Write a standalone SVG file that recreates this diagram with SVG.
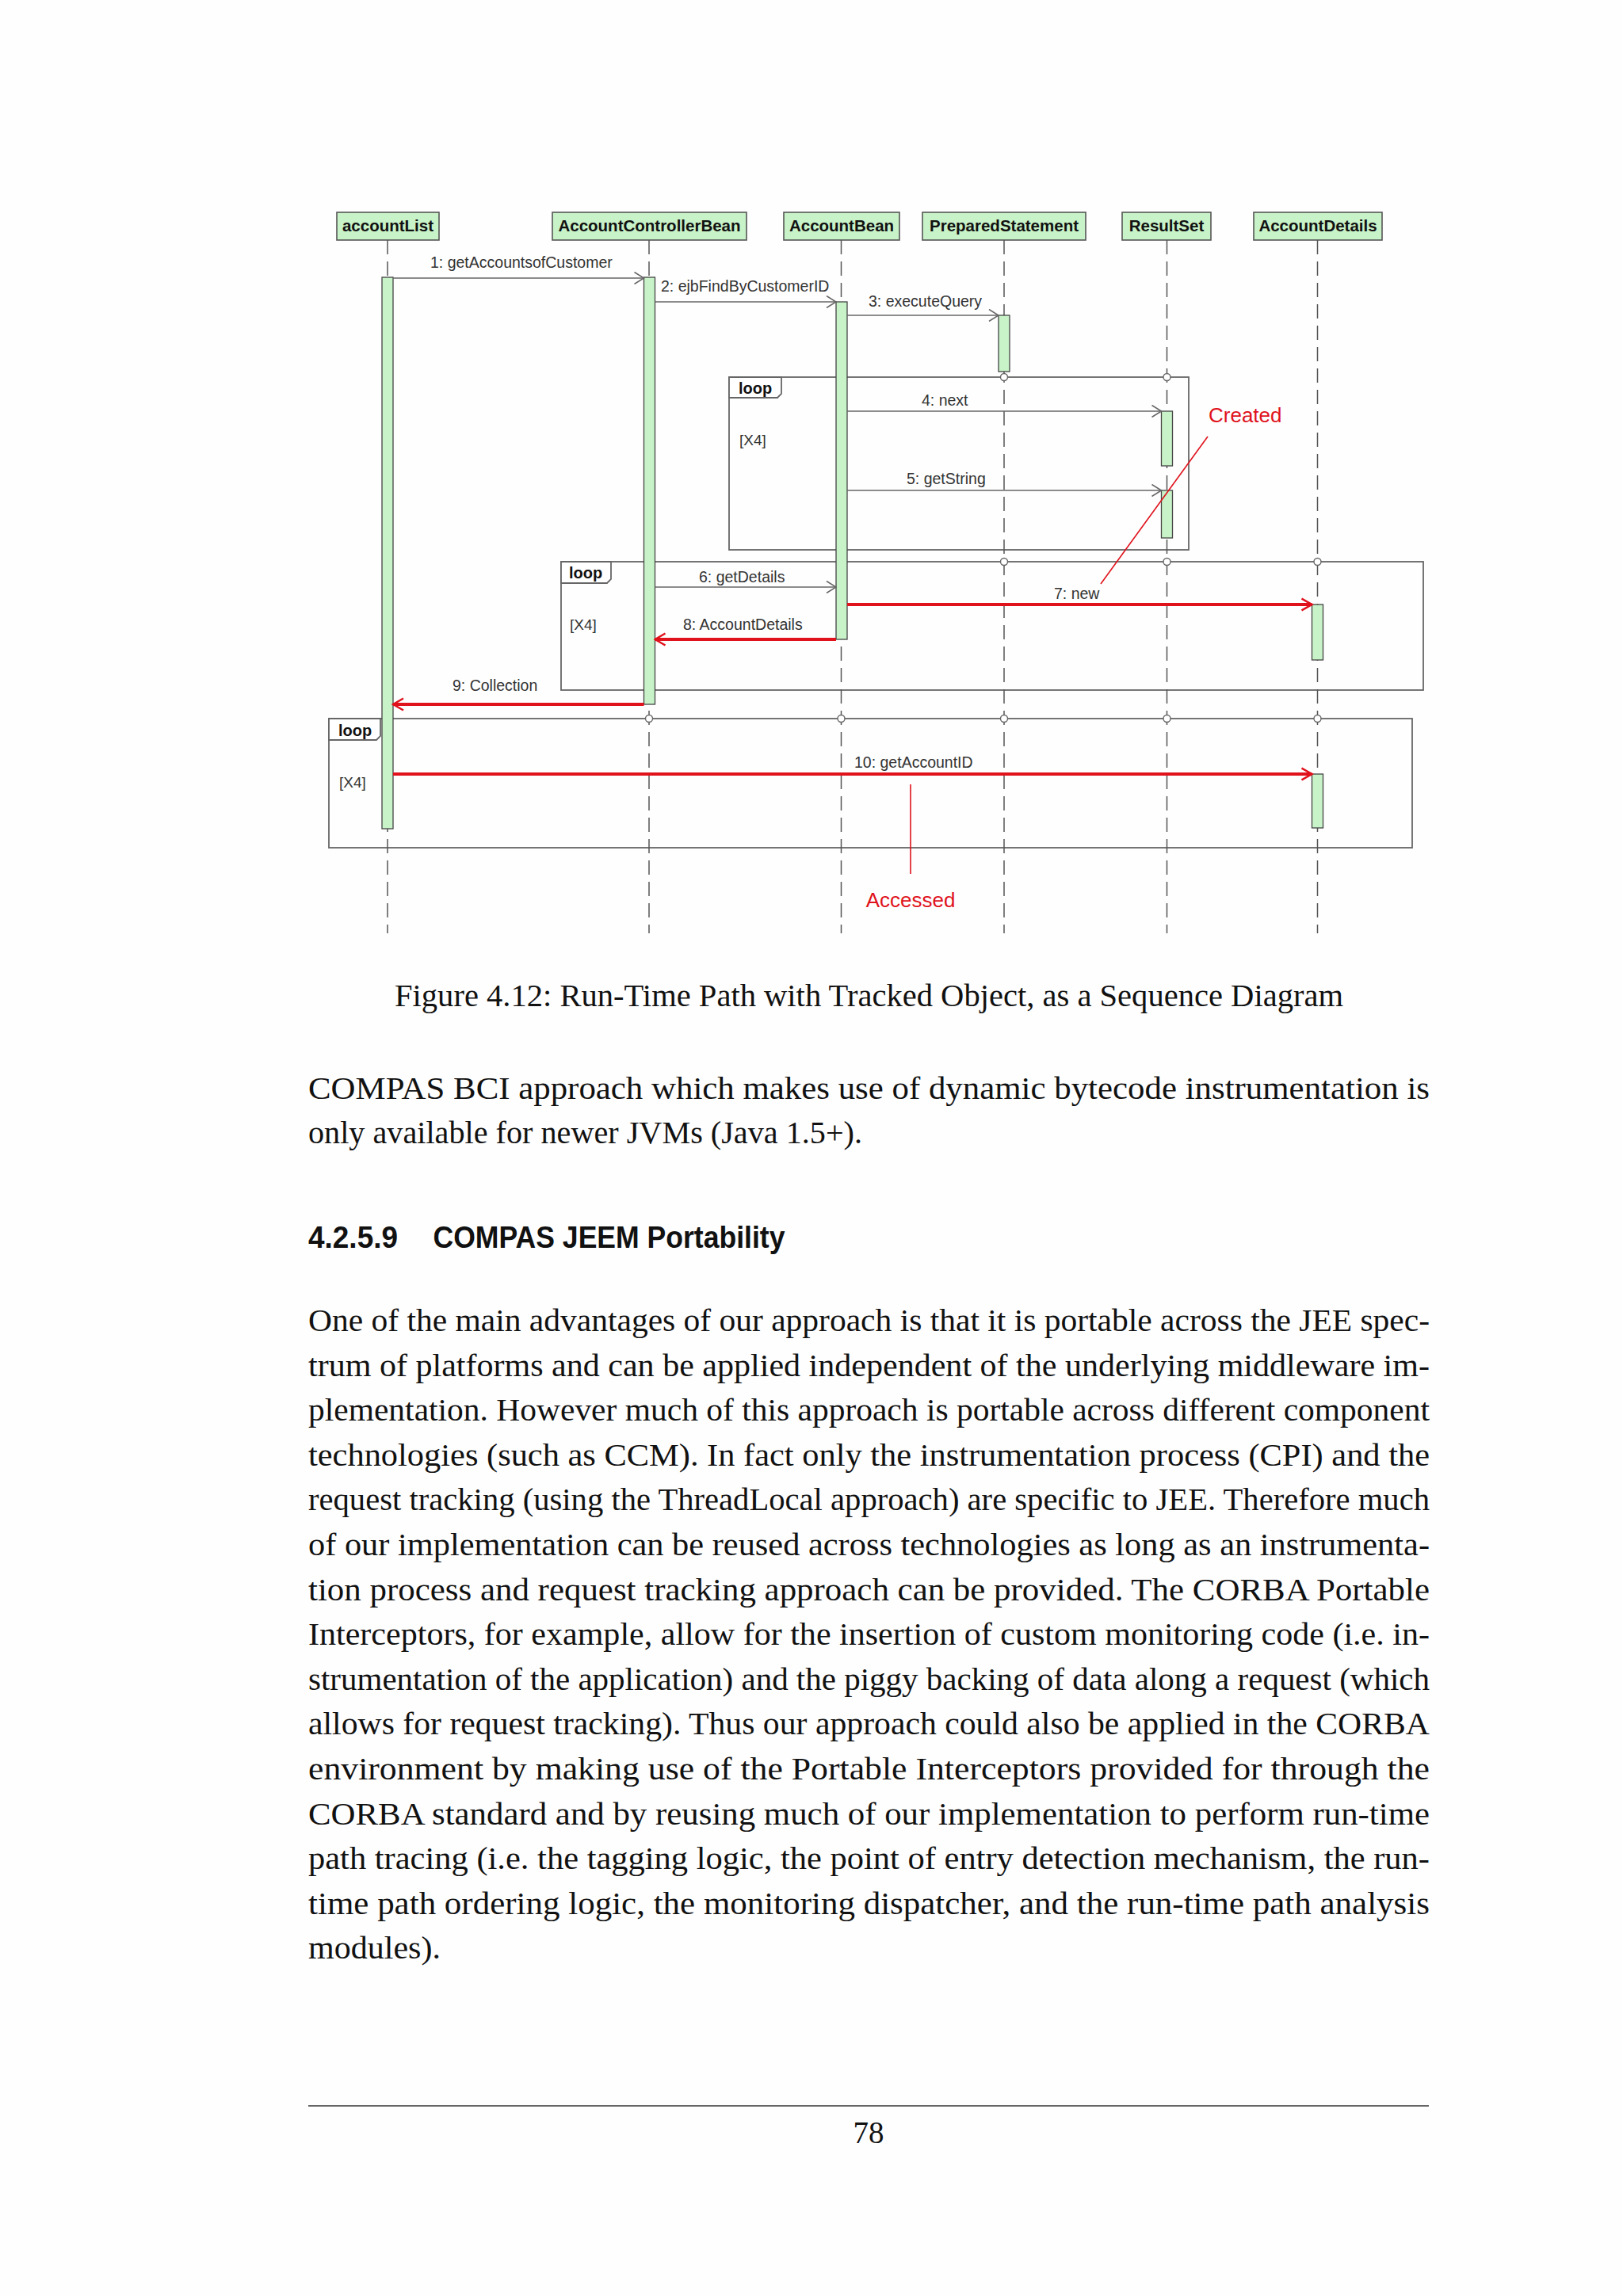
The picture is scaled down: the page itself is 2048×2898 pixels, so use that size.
<svg xmlns="http://www.w3.org/2000/svg" width="2048" height="2898" viewBox="0 0 2048 2898">
<style>
.bg{fill:#fefefe}
.hdr{fill:#c8f2c8;stroke:#555;stroke-width:1.6}
.hdrt{font-family:"Liberation Sans",Arial,sans-serif;font-weight:bold;font-size:20.5px;fill:#111;text-anchor:middle}
.life{stroke:#555;stroke-width:1.5;stroke-dasharray:18 9;fill:none}
.bar{fill:#c8f2c8;stroke:#444;stroke-width:1.3}
.frame{fill:none;stroke:#666;stroke-width:1.8}
.tab{fill:#fff;stroke:#666;stroke-width:1.8}
.loopt{font-family:"Liberation Sans",Arial,sans-serif;font-weight:bold;font-size:20px;fill:#111}
.guard{font-family:"Liberation Sans",Arial,sans-serif;font-size:19px;fill:#333}
.msg{stroke:#666;stroke-width:1.6;fill:none}
.rmsg{stroke:#e0121c;stroke-width:4;fill:none}
.lbl{font-family:"Liberation Sans",Arial,sans-serif;font-size:19.5px;fill:#333}
.circ{fill:#fff;stroke:#666;stroke-width:1.4}
.note{font-family:"Liberation Sans",Arial,sans-serif;font-size:26px;fill:#e0121c}
.nline{stroke:#e0121c;stroke-width:1.6;fill:none}
.body{font-family:"Liberation Serif","Times New Roman",serif;font-size:39px;fill:#111}
.head{font-family:"Liberation Sans",Arial,sans-serif;font-weight:bold;font-size:39px;fill:#111}
</style>
<defs>
<marker id="arrG" viewBox="0 0 14 16" refX="13" refY="8" markerWidth="14" markerHeight="16" orient="auto" markerUnits="userSpaceOnUse">
<path d="M1,0.5 L13,8 L1,15.5" fill="none" stroke="#666" stroke-width="1.6"/>
</marker>
<marker id="arrR" viewBox="0 0 16 18" refX="14" refY="9" markerWidth="16" markerHeight="18" orient="auto" markerUnits="userSpaceOnUse">
<path d="M1,1.5 L14,9 L1,16.5" fill="none" stroke="#e0121c" stroke-width="2.5"/>
</marker>
</defs>
<rect class="bg" x="0" y="0" width="2048" height="2898"/>

<g id="frames">
<g id="loop1">
<rect class="frame" x="920" y="476" width="580" height="218"/>
<path class="tab" d="M920,476 H986 V497 L981,502 H920 Z"/>
<text class="loopt" x="932" y="497">loop</text>
<text class="guard" x="933" y="562">[X4]</text>
</g>
<g id="loop2">
<rect class="frame" x="708" y="709" width="1088" height="162"/>
<path class="tab" d="M708,709 H771 V731 L766,736 H708 Z"/>
<text class="loopt" x="718" y="730">loop</text>
<text class="guard" x="719" y="795">[X4]</text>
</g>
<g id="loop3">
<rect class="frame" x="415" y="907" width="1367" height="163"/>
<path class="tab" d="M415,907 H480 V929 L475,934 H415 Z"/>
<text class="loopt" x="427" y="929">loop</text>
<text class="guard" x="428" y="994">[X4]</text>
</g>
</g>

<g id="accountList">
<line class="life" x1="489" y1="303" x2="489" y2="1178"/>
<rect class="hdr" x="425" y="268" width="129" height="35"/>
<text class="hdrt" x="489.5" y="291.5">accountList</text>
<rect class="bar" x="482" y="350" width="14" height="696"/>
</g>
<g id="AccountControllerBean">
<line class="life" x1="819" y1="303" x2="819" y2="1178"/>
<rect class="hdr" x="697" y="268" width="245" height="35"/>
<text class="hdrt" x="819.5" y="291.5">AccountControllerBean</text>
<rect class="bar" x="812.5" y="350" width="14" height="539"/>
</g>
<g id="AccountBean">
<line class="life" x1="1061.5" y1="303" x2="1061.5" y2="1178"/>
<rect class="hdr" x="989" y="268" width="146" height="35"/>
<text class="hdrt" x="1062" y="291.5">AccountBean</text>
<rect class="bar" x="1055" y="381" width="14" height="426"/>
</g>
<g id="PreparedStatement">
<line class="life" x1="1267" y1="303" x2="1267" y2="1178"/>
<rect class="hdr" x="1164" y="268" width="206" height="35"/>
<text class="hdrt" x="1267" y="291.5">PreparedStatement</text>
<rect class="bar" x="1260" y="398" width="14" height="71"/>
</g>
<g id="ResultSet">
<line class="life" x1="1472.5" y1="303" x2="1472.5" y2="1178"/>
<rect class="hdr" x="1416" y="268" width="112" height="35"/>
<text class="hdrt" x="1472" y="291.5">ResultSet</text>
<rect class="bar" x="1465.5" y="519" width="14" height="69"/>
<rect class="bar" x="1465.5" y="619" width="14" height="60"/>
</g>
<g id="AccountDetails">
<line class="life" x1="1662.5" y1="303" x2="1662.5" y2="1178"/>
<rect class="hdr" x="1582" y="268" width="162" height="35"/>
<text class="hdrt" x="1663" y="291.5">AccountDetails</text>
<rect class="bar" x="1655.5" y="763" width="14" height="70"/>
<rect class="bar" x="1655.5" y="977" width="14" height="68"/>
</g>

<g id="frame-points">
<circle class="circ" cx="1267" cy="476" r="4.5"/>
<circle class="circ" cx="1472.5" cy="476" r="4.5"/>
<circle class="circ" cx="1267" cy="709" r="4.5"/>
<circle class="circ" cx="1472.5" cy="709" r="4.5"/>
<circle class="circ" cx="1662.5" cy="709" r="4.5"/>
<circle class="circ" cx="819" cy="907" r="4.5"/>
<circle class="circ" cx="1061.5" cy="907" r="4.5"/>
<circle class="circ" cx="1267" cy="907" r="4.5"/>
<circle class="circ" cx="1472.5" cy="907" r="4.5"/>
<circle class="circ" cx="1662.5" cy="907" r="4.5"/>
</g>

<g id="connectors">
<line class="msg" x1="496" y1="351" x2="812.5" y2="351" marker-end="url(#arrG)"/>
<text class="lbl" x="543" y="338">1: getAccountsofCustomer</text>
<line class="msg" x1="826.5" y1="381" x2="1055" y2="381" marker-end="url(#arrG)"/>
<text class="lbl" x="834" y="368">2: ejbFindByCustomerID</text>
<line class="msg" x1="1069" y1="398" x2="1260" y2="398" marker-end="url(#arrG)"/>
<text class="lbl" x="1096" y="387">3: executeQuery</text>
<line class="msg" x1="1069" y1="519" x2="1465.5" y2="519" marker-end="url(#arrG)"/>
<text class="lbl" x="1163" y="512">4: next</text>
<line class="msg" x1="1069" y1="619" x2="1465.5" y2="619" marker-end="url(#arrG)"/>
<text class="lbl" x="1144" y="611">5: getString</text>
<line class="msg" x1="826.5" y1="741" x2="1055" y2="741" marker-end="url(#arrG)"/>
<text class="lbl" x="882" y="735">6: getDetails</text>
<line class="rmsg" x1="1069" y1="763" x2="1655.5" y2="763" marker-end="url(#arrR)"/>
<text class="lbl" x="1330" y="756">7: new</text>
<line class="rmsg" x1="1055" y1="807" x2="826.5" y2="807" marker-end="url(#arrR)"/>
<text class="lbl" x="862" y="795">8: AccountDetails</text>
<line class="rmsg" x1="812.5" y1="889" x2="496" y2="889" marker-end="url(#arrR)"/>
<text class="lbl" x="571" y="872">9: Collection</text>
<line class="rmsg" x1="496" y1="977" x2="1655.5" y2="977" marker-end="url(#arrR)"/>
<text class="lbl" x="1078" y="969">10: getAccountID</text>
</g>

<g id="annotations">
<line class="nline" x1="1524" y1="551" x2="1389" y2="737"/>
<text class="note" x="1525" y="533">Created</text>
<line class="nline" x1="1149" y1="990" x2="1149" y2="1103"/>
<text class="note" x="1149" y="1145" text-anchor="middle">Accessed</text>
</g>

<g id="page-text">
<text class="body" x="498" y="1270" textLength="1197" lengthAdjust="spacingAndGlyphs">Figure 4.12: Run-Time Path with Tracked Object, as a Sequence Diagram</text>
<text class="body" x="389" y="1387" textLength="1415" lengthAdjust="spacingAndGlyphs">COMPAS BCI approach which makes use of dynamic bytecode instrumentation is</text>
<text class="body" x="389" y="1443" textLength="699" lengthAdjust="spacingAndGlyphs">only available for newer JVMs (Java 1.5+).</text>
<text class="head" x="389" y="1575" textLength="113" lengthAdjust="spacingAndGlyphs">4.2.5.9</text>
<text class="head" x="546.5" y="1575" textLength="444" lengthAdjust="spacingAndGlyphs">COMPAS JEEM Portability</text>
<text class="body" x="389" y="1680" textLength="1415" lengthAdjust="spacingAndGlyphs">One of the main advantages of our approach is that it is portable across the JEE spec-</text>
<text class="body" x="389" y="1736.6" textLength="1415" lengthAdjust="spacingAndGlyphs">trum of platforms and can be applied independent of the underlying middleware im-</text>
<text class="body" x="389" y="1793.2" textLength="1415" lengthAdjust="spacingAndGlyphs">plementation. However much of this approach is portable across different component</text>
<text class="body" x="389" y="1849.8" textLength="1415" lengthAdjust="spacingAndGlyphs">technologies (such as CCM). In fact only the instrumentation process (CPI) and the</text>
<text class="body" x="389" y="1906.4" textLength="1415" lengthAdjust="spacingAndGlyphs">request tracking (using the ThreadLocal approach) are specific to JEE. Therefore much</text>
<text class="body" x="389" y="1963" textLength="1415" lengthAdjust="spacingAndGlyphs">of our implementation can be reused across technologies as long as an instrumenta-</text>
<text class="body" x="389" y="2019.6" textLength="1415" lengthAdjust="spacingAndGlyphs">tion process and request tracking approach can be provided.  The CORBA Portable</text>
<text class="body" x="389" y="2076.2" textLength="1415" lengthAdjust="spacingAndGlyphs">Interceptors, for example, allow for the insertion of custom monitoring code (i.e.  in-</text>
<text class="body" x="389" y="2132.8" textLength="1415" lengthAdjust="spacingAndGlyphs">strumentation of the application) and the piggy backing of data along a request (which</text>
<text class="body" x="389" y="2189.4" textLength="1415" lengthAdjust="spacingAndGlyphs">allows for request tracking). Thus our approach could also be applied in the CORBA</text>
<text class="body" x="389" y="2246" textLength="1415" lengthAdjust="spacingAndGlyphs">environment by making use of the Portable Interceptors provided for through the</text>
<text class="body" x="389" y="2302.6" textLength="1415" lengthAdjust="spacingAndGlyphs">CORBA standard and by reusing much of our implementation to perform run-time</text>
<text class="body" x="389" y="2359.2" textLength="1415" lengthAdjust="spacingAndGlyphs">path tracing (i.e.  the tagging logic, the point of entry detection mechanism, the run-</text>
<text class="body" x="389" y="2415.8" textLength="1415" lengthAdjust="spacingAndGlyphs">time path ordering logic, the monitoring dispatcher, and the run-time path analysis</text>
<text class="body" x="389" y="2472.4" textLength="167" lengthAdjust="spacingAndGlyphs">modules).</text>
<line x1="389" y1="2658" x2="1803" y2="2658" stroke="#333" stroke-width="1.6"/>
<text class="body" x="1096" y="2705" text-anchor="middle">78</text>
</g>
</svg>
